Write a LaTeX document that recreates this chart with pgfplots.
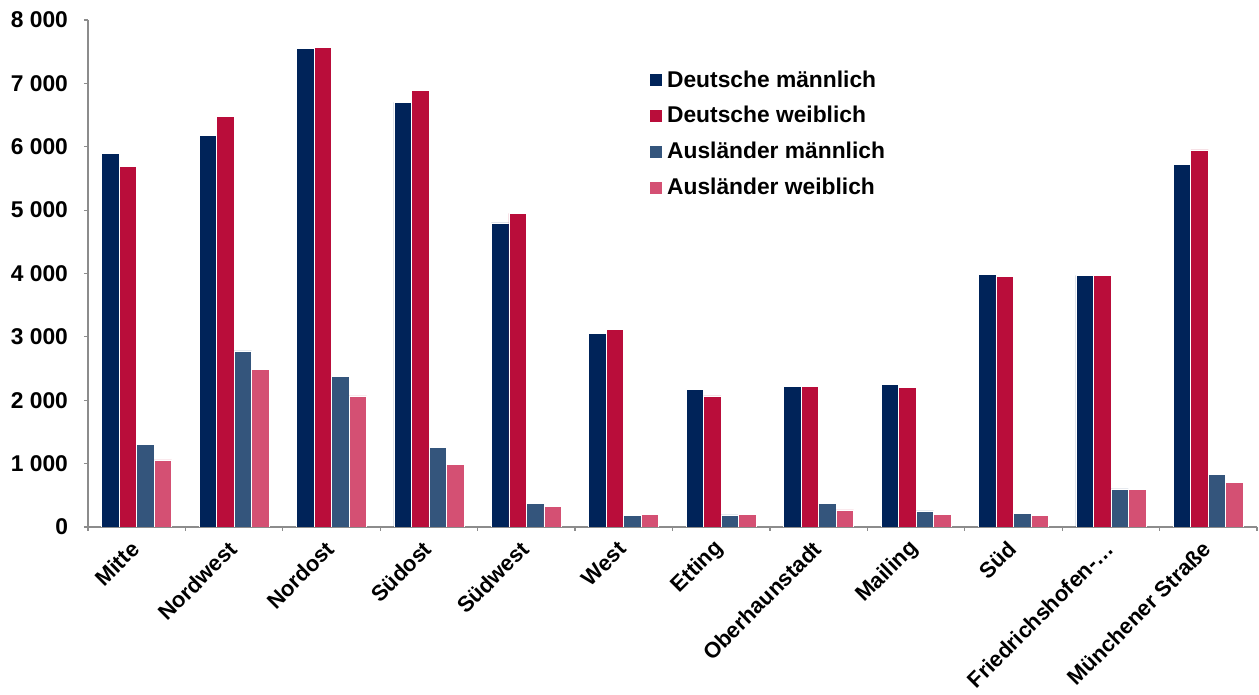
\documentclass[border=0pt]{standalone}
\usepackage{fontspec}
\setmainfont{Liberation Sans}
\usepackage{pgfplots}
\pgfplotsset{compat=1.18}
\definecolor{cDM}{HTML}{002359}
\definecolor{cDW}{HTML}{B90D3A}
\definecolor{cAM}{HTML}{34557C}
\definecolor{cAW}{HTML}{D45073}
\definecolor{axgray}{HTML}{8C8C8C}
\newcommand\lf{\fontsize{11.4pt}{13pt}\selectfont\bfseries}
\newcommand\xf{\fontsize{11pt}{13pt}\selectfont\bfseries}
\begin{document}
\begin{tikzpicture}
\begin{axis}[
  name=ax, at={(0pt,0pt)}, anchor=south west,
  scale only axis, width=584.5pt, height=253.5pt,
  ybar=0pt, bar width=8.75pt,
  xmin=-0.5, xmax=11.5, ymin=0, ymax=8000,
  axis x line*=bottom, axis y line*=left,
  axis line style={draw=axgray, line width=0.6pt},
  tick style={draw=axgray, line width=0.6pt},
  tick align=outside, major tick length=2pt,
  xtick={-0.5,0.5,...,11.5}, xticklabels={},
  extra x ticks={0,1,...,11},
  extra x tick labels={Mitte,Nordwest,Nordost,Südost,Südwest,West,Etting,Oberhaunstadt,Mailing,Süd,Friedrichshofen-…,Münchener Straße},
  extra x tick style={major tick length=0pt, xticklabel style={rotate=45, anchor=east, font=\xf, xshift=-3.5pt, yshift=-6pt}},
  ytick={0,1000,...,8000},
  yticklabels={0,1~000,2~000,3~000,4~000,5~000,6~000,7~000,8~000},
  yticklabel style={font=\lf, xshift=-4.5pt},
  legend cell align=left,
  legend style={at={(0.474,0.917)}, anchor=north west, draw=none, fill=none, font=\lf, row sep=4.1pt,
    /tikz/every odd column/.append style={column sep=0.5pt}},
  legend image code/.code={\fill[#1] (0pt,-3.25pt) rectangle (6.5pt,3.25pt);},
  every axis plot/.append style={draw=white, line width=0.3pt},
]
\addplot[fill=cDM] coordinates {(0,5900) (1,6180) (2,7550) (3,6700) (4,4800) (5,3060) (6,2170) (7,2215) (8,2250) (9,3990) (10,3970) (11,5725)};
\addplot[fill=cDW] coordinates {(0,5690) (1,6480) (2,7565) (3,6890) (4,4950) (5,3120) (6,2070) (7,2215) (8,2200) (9,3950) (10,3975) (11,5950)};
\addplot[fill=cAM] coordinates {(0,1300) (1,2780) (2,2380) (3,1250) (4,370) (5,185) (6,190) (7,370) (8,255) (9,220) (10,600) (11,830)};
\addplot[fill=cAW] coordinates {(0,1060) (1,2490) (2,2070) (3,990) (4,330) (5,200) (6,195) (7,270) (8,200) (9,180) (10,590) (11,700)};
\legend{Deutsche männlich,Deutsche weiblich,Ausländer männlich,Ausländer weiblich}
\end{axis}
\pgfresetboundingbox
\path[use as bounding box] (-44pt,-84pt) rectangle (585.5pt,263.5pt);
\end{tikzpicture}
\end{document}
